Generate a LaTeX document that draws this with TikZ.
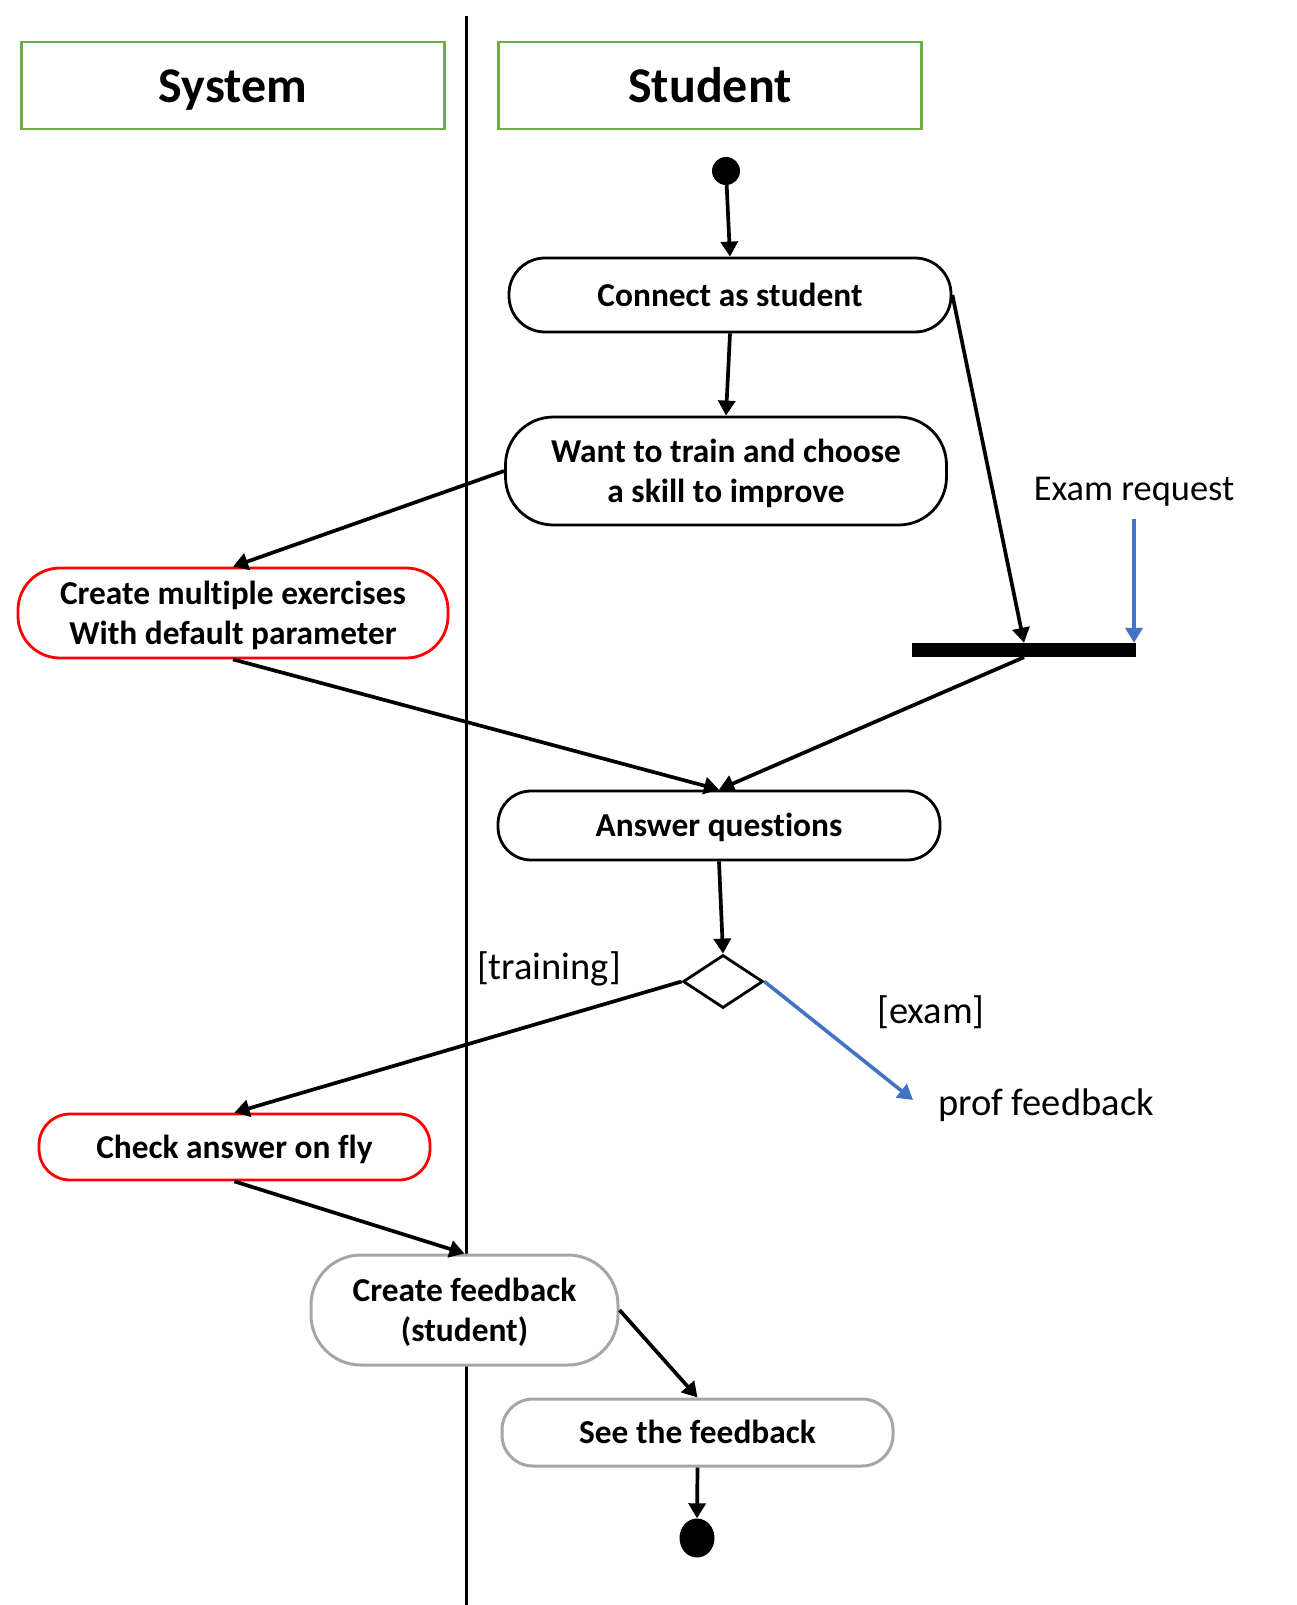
\documentclass[tikz,border=0pt]{standalone}
\usepackage{fontspec}
\setmainfont{Carlito}[Ligatures={NoCommon}]
\usetikzlibrary{shapes.geometric,arrows.meta,calc}
\definecolor{lanegreen}{RGB}{112,173,71}
\definecolor{flowblue}{RGB}{68,114,196}
\definecolor{softgray}{RGB}{166,166,166}
\tikzset{
  lanehead/.style={draw=lanegreen,line width=2.8pt,minimum width=423pt,minimum height=87pt,
    text height=35pt,text depth=0pt,font=\fontsize{50}{60}\selectfont\bfseries},
  act/.style={draw=black,line width=2.8pt,fill=white,align=center,inner sep=0pt,
    font=\fontsize{33.4}{40}\selectfont\bfseries},
  oneline/.style={text height=27pt,text depth=5pt},
  twoline/.style={text depth=1pt},
  sysact/.style={act,draw=red},
  fbact/.style={act,draw=softgray,line width=3pt},
  dot/.style={circle,fill=black,inner sep=0pt},
  lbl/.style={font=\fontsize{38.5}{46}\selectfont,inner sep=0pt},
  arr/.style={line width=3.7pt,-{Triangle[length=15pt,width=17pt]}},
  bluearr/.style={draw=flowblue,line width=3.6pt,-{Triangle[length=15pt,width=17pt]}}
}
\begin{document}
\begin{tikzpicture}[x=1pt,y=-1pt]
\useasboundingbox[fill=white] (0,0) rectangle (1297,1605);

% swim lane divider
\draw[line width=3pt] (466,16) -- (466,1605);

% lane headers
\node[lanehead] (syshead) at (233,85.5) {System};
\node[lanehead] (stuhead) at (710,85.5) {Student};

% start and end
\node[dot,minimum size=28pt] (start) at (726,171) {};
\node[dot,ellipse,minimum width=35pt,minimum height=39pt] (finish) at (697,1538) {};

% activities
\node[act,oneline,minimum width=442pt,minimum height=74pt,rounded corners=36pt] (conn) at (730,295) {Connect as student};
\node[act,twoline,minimum width=441pt,minimum height=108pt,rounded corners=48pt] (want) at (726,471) {Want to train and choose\\a skill to improve};
\node[sysact,twoline,minimum width=430pt,minimum height=90pt,rounded corners=42pt] (exer) at (233,613) {Create multiple exercises\\With default parameter};
\node[act,oneline,minimum width=442pt,minimum height=69pt,rounded corners=33pt] (answer) at (719,825.5) {Answer questions};
\node[sysact,oneline,minimum width=391pt,minimum height=66pt,rounded corners=31pt] (check) at (234.5,1147) {Check answer on fly};
\node[fbact,twoline,minimum width=307pt,minimum height=110pt,rounded corners=50pt] (cfb) at (464.5,1310) {Create feedback\\(student)};
\node[fbact,oneline,minimum width=391pt,minimum height=67pt,rounded corners=31pt] (see) at (697.5,1432.5) {See the feedback};

% synchronisation bar
\node[fill=black,inner sep=0pt,minimum width=224pt,minimum height=14pt] (bar) at (1024,650) {};

% decision
\node[draw=black,line width=2.8pt,diamond,inner sep=0pt,minimum width=80pt,minimum height=53pt] (dia) at (723,981.5) {};

% labels
\node[lbl,font=\fontsize{36.4}{44}\selectfont] (examreq) at (1134,492) {Exam request};
\node[lbl] (training) at (549,969) {[training]};
\node[lbl] (exam) at (931,1012) {[exam]};
\node[lbl] (prof) at (1046,1105) {prof feedback};
\coordinate (reqstart) at (1134,519);
\coordinate (profend) at (913,1100);

% flow
\draw[arr] (start) -- (conn.north);
\draw[arr] (conn.south) -- (want.north);
\draw[arr] (conn.east) -- (bar.north);
\draw[bluearr] (reqstart) -- (bar.north east -| reqstart);
\draw[arr] (want.west) -- (exer.north);
\draw[arr] (exer.south) -- (answer.north);
\draw[arr] (bar.south) -- (answer.north);
\draw[arr] (answer.south) -- (dia.north);
\draw[arr] (dia.west) -- (check.north);
\draw[bluearr] (dia.east) -- (profend);
\draw[arr] (check.south) -- (cfb.north);
\draw[arr] (cfb.east) -- (see.north);
\draw[arr] (see.south) -- (finish.north);
\end{tikzpicture}
\end{document}
